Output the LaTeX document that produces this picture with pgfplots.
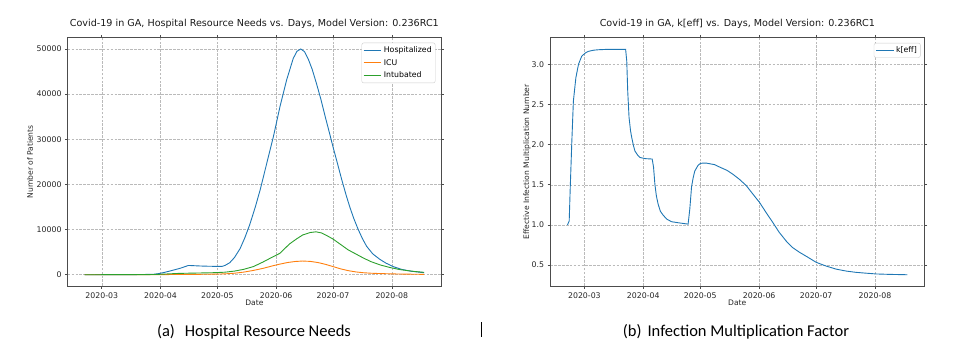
\documentclass[border=0pt]{standalone}
\usepackage{fontspec}
\setmainfont{DejaVu Sans}
\newfontfamily\capfont{Carlito}
\usepackage{pgfplots}
\usepackage{pgfplotstable}
\pgfplotsset{compat=1.18}
\definecolor{tabblue}{HTML}{1F77B4}
\definecolor{taborange}{HTML}{FF7F0E}
\definecolor{tabgreen}{HTML}{2CA02C}

\pgfplotstableread{
d v
-9 0
0 5
10 15
20 40
25 70
28 120
30.7 300
33.5 560
36 820
38.5 1100
41.3 1420
44 1800
45.7 2050
48 2010
52 1930
56 1880
60 1850
63.5 1850
65 2050
67.5 2650
70 3800
73 5800
75.5 8200
78 11000
81 15000
83.5 18700
87 24600
90.5 30500
94 37200
97.5 43100
101 47900
103 49500
105 50000
107 49400
109 47700
111 45500
113.3 42300
115.5 39000
117.7 35300
120 31600
122 28300
124.3 24700
126.5 21200
129 17500
131 14800
133 12400
135.3 10000
137.5 8000
139.7 6300
143 4600
146.7 3400
150 2550
153.7 1800
158 1200
163 780
170 440
}\hosp

\pgfplotstableread{
d v
-9 0
20 5
30 20
40 50
50 80
60 130
65 190
70 330
75 580
80 950
85 1400
90 1950
94 2350
98 2700
102 2930
106 3030
110 2950
114 2700
118 2300
122 1800
126 1300
130 900
134 620
138 440
142 330
147 250
155 170
162 120
170 80
}\icu

\pgfplotstableread{
d v
-9 0
20 10
25 30
30 80
35 180
40 280
45 330
50 370
55 410
60 460
65 560
70 800
75 1200
80 1800
85 2800
90 3900
94 4750
99 6800
103 8000
106 8800
110 9350
113 9500
116 9250
119 8600
122 7900
126 6700
130 5500
134 4600
138 3700
142 2900
147 2150
152 1600
157 1150
161 920
165 720
170 530
}\intub

\pgfplotstableread{
d v
-8.9 1.00
-8.0 1.05
-7.5 1.43
-6.6 2.05
-5.8 2.54
-4.5 2.83
-3.1 3.00
-1.4 3.10
0.5 3.14
2.1 3.16
5 3.175
7.4 3.18
12 3.185
21.7 3.185
22.3 3.04
22.8 2.67
23.5 2.34
24.3 2.17
24.9 2.09
25.8 1.99
26.6 1.92
28 1.87
29.2 1.84
32 1.825
35.7 1.82
36.4 1.72
37.1 1.51
37.9 1.36
38.8 1.26
40 1.17
41.5 1.12
43.5 1.07
45.9 1.04
50 1.025
54.6 1.01
55.5 1.20
56.4 1.47
57.2 1.58
58.1 1.67
59.8 1.74
61 1.765
62.5 1.77
64 1.77
68.6 1.75
71.2 1.72
75 1.68
78.2 1.63
81.5 1.57
85.2 1.49
88.5 1.39
92.2 1.28
95.5 1.16
99.2 1.03
102.5 0.91
106.2 0.80
109.5 0.72
113.2 0.66
117.5 0.60
122 0.535
127 0.49
132.5 0.45
138 0.425
143 0.41
148 0.40
153.5 0.39
160 0.385
170 0.38
}\keff

\pgfplotsset{mplstyle/.style={
  scale only axis, height=248.3bp,
  xmin=-17.95, xmax=178.95,
  xtick={0,31,61,92,122,153},
  xticklabels={2020-03,2020-04,2020-05,2020-06,2020-07,2020-08},
  grid=major,
  major grid style={black!27, line width=0.45bp, dash pattern=on 2.6bp off 1.3bp},
  axis line style={black!70, line width=0.6bp},
  tick align=outside, major tick length=2.7bp,
  tick style={black!70, line width=0.6bp},
  tick label style={font=\fontsize{7.8bp}{9bp}\selectfont, text=black!85},
  label style={font=\fontsize{7.6bp}{9bp}\selectfont, text=black!85},
  title style={font=\fontsize{9.6bp}{11bp}\selectfont, text=black!90},
  xlabel={Date},
  xlabel style={at={(axis description cs:0.5,-0.0673)}, anchor=center},
  every axis plot/.append style={line width=0.9bp, mark=none},
  /pgf/number format/assume math mode=true,
  legend cell align=left,
  legend style={draw=black!20, rounded corners=2bp, anchor=north east,
    font=\fontsize{7.8bp}{9bp}\selectfont, row sep=1.5bp, inner sep=1.5bp},
  legend image code/.code={\draw[##1] (0bp,0bp) -- (17.7bp,0bp);},
}}

\begin{document}
\begin{tikzpicture}
\useasboundingbox (0,0) rectangle (964bp,341bp);
\begin{axis}[mplstyle,
  at={(67.7bp,55bp)}, anchor=south west, width=373.3bp,
  ymin=-2500, ymax=52500,
  ytick={0,10000,20000,30000,40000,50000},
  scaled y ticks=false,
  yticklabel style={/pgf/number format/1000 sep={}},
  ylabel={Number of Patients},
  ylabel style={at={(axis description cs:-0.101,0.5)}, anchor=center},
  title={Covid-19 in GA, Hospital Resource Needs vs. Days, Model Version: 0.236RC1},
  legend style={at={(0.985,0.98)}},
]
\addplot[tabblue] table[x=d,y=v] {\hosp};
\addlegendentry{Hospitalized}
\addplot[taborange] table[x=d,y=v] {\icu};
\addlegendentry{ICU}
\addplot[tabgreen] table[x=d,y=v] {\intub};
\addlegendentry{Intubated}
\end{axis}

\begin{axis}[mplstyle,
  at={(550.3bp,55bp)}, anchor=south west, width=374bp,
  ymin=0.24, ymax=3.33,
  ytick={0.5,1.0,1.5,2.0,2.5,3.0},
  yticklabel style={/pgf/number format/fixed, /pgf/number format/fixed zerofill, /pgf/number format/precision=1},
  ylabel={Effective Infection Multiplication Number},
  ylabel style={at={(axis description cs:-0.0623,0.5)}, anchor=center},
  title={Covid-19 in GA, k[eff] vs. Days, Model Version: 0.236RC1},
  legend style={at={(0.99,0.979)}},
]
\addplot[tabblue] table[x=d,y=v] {\keff};
\addlegendentry{k[eff]}
\end{axis}

\node[font=\capfont\fontsize{16.5bp}{19bp}\selectfont, anchor=center] at (254bp,8.8bp) {(a)\hspace{10bp}Hospital Resource Needs};
\node[font=\capfont\fontsize{16.5bp}{19bp}\selectfont, anchor=center] at (736bp,8.8bp) {(b)\hspace{6bp}Infection Multiplication Factor};
\draw[line width=0.8bp] (481bp,4.3bp) -- (481bp,19.3bp);
\end{tikzpicture}
\end{document}
